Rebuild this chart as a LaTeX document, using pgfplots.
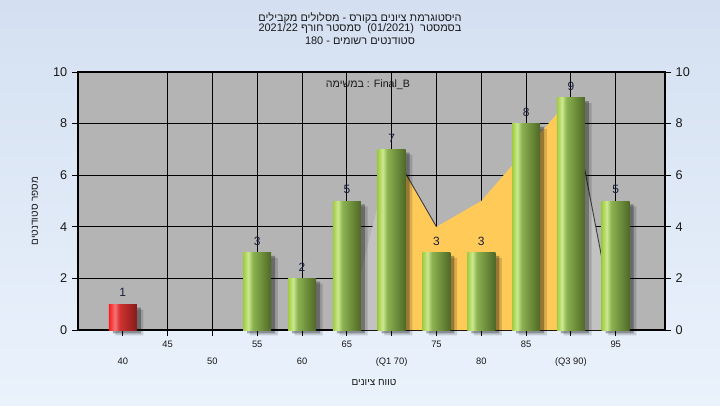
\documentclass[border=0pt]{standalone}
\usepackage{fontspec}
\setmainfont{Liberation Sans}
\newfontfamily\heb[Script=Hebrew]{Liberation Sans}
\usepackage{pgfplots}
\pgfplotsset{compat=1.18}
\TeXXeTstate=1
\newcommand\R[1]{{\heb\beginR #1\endR}}

\definecolor{bgtop}{RGB}{212,224,241}
\definecolor{bgbot}{RGB}{234,242,252}
\definecolor{plotbg}{RGB}{180,180,180}
\definecolor{areaor}{RGB}{255,202,88}
\definecolor{areagr}{RGB}{194,194,194}
\definecolor{gL}{RGB}{160,204,64}
\definecolor{gH}{RGB}{204,232,144}
\definecolor{gM}{RGB}{140,178,80}
\definecolor{gD}{RGB}{78,104,38}
\definecolor{rL}{RGB}{250,28,28}
\definecolor{rH}{RGB}{245,115,115}
\definecolor{rM}{RGB}{210,50,50}
\definecolor{rD}{RGB}{135,28,28}
\definecolor{lbl}{RGB}{25,30,60}
\definecolor{txt}{RGB}{25,25,25}

\pgfdeclarehorizontalshading{greenbar}{100bp}{color(0bp)=(gL); color(25bp)=(gL); color(34bp)=(gH); color(42bp)=(gM); color(75bp)=(gD); color(100bp)=(gD)}
\pgfdeclarehorizontalshading{redbar}{100bp}{color(0bp)=(rL); color(25bp)=(rL); color(36bp)=(rH); color(44bp)=(rM); color(75bp)=(rD); color(100bp)=(rD)}

\pgfplotsset{gbar/.style={ybar, bar width=21pt, bar shift=0pt, draw=none, shading=greenbar}}

\begin{document}
\begin{tikzpicture}
\fill[top color=bgtop, bottom color=bgbot] (0,0) rectangle (540pt,303.75pt);

\begin{axis}[
  at={(58.5pt,56.25pt)}, anchor=south west,
  scale only axis, width=440.25pt, height=193.5pt,
  xmin=-1, xmax=12.1, ymin=0, ymax=10,
  clip=false,
  axis background/.style={fill=plotbg},
  xtick={1,3,5,7,9,11},
  xticklabels={45,55,65,75,85,95},
  extra x ticks={0,2,4,6,8,10},
  extra x tick labels={40,50,60,(Q1 70),80,(Q3 90)},
  extra x tick style={grid=none, xticklabel style={yshift=-12.75pt}},
  xticklabel style={font=\fontsize{7}{8.5}\selectfont, text=txt},
  minor xtick={1,...,11}, xminorgrids,
  ytick={0,2,...,10}, ymajorgrids,
  grid style={black, line width=0.75pt},
  minor grid style={black, line width=0.75pt},
  tick style={black, line width=0.75pt},
  major tick length=4.5pt, minor tick length=0pt,
  tick align=outside,
  xtick pos=bottom, ytick pos=left,
  axis line style={black, line width=0.8pt},
  yticklabel style={font=\fontsize{9.5}{11}\selectfont, text=txt},
  /pgf/number format/assume math mode=true,
]
% distribution area
\addplot[fill=areagr, draw=none] coordinates {(5,0) (6,7)} \closedcycle;
\addplot[fill=areagr, draw=none] coordinates {(10,9) (11,0)} \closedcycle;
\addplot[fill=areaor, draw=none] coordinates {(6,7) (7,4) (8,5) (9,7) (10,9)} \closedcycle;
\addplot[black!75, line width=0.7pt] coordinates {(6,7) (7,4)};
\addplot[black!75, line width=0.7pt] coordinates {(10,9) (11,0)};
% shadows
\addplot[ybar, bar width=21pt, bar shift=5pt, draw=none, fill=black, fill opacity=0.15, yshift=-4pt]
  coordinates {(0,1) (3,3) (4,2) (5,5) (6,7) (7,3) (8,3) (9,8) (10,9) (11,5)};
\addplot[ybar, bar width=21pt, bar shift=3pt, draw=none, fill=black, fill opacity=0.3, yshift=-2.5pt]
  coordinates {(0,1) (3,3) (4,2) (5,5) (6,7) (7,3) (8,3) (9,8) (10,9) (11,5)};
% bars
\addplot[ybar, bar width=21pt, bar shift=0pt, draw=none, shading=redbar] coordinates {(0,1)};
\addplot[gbar] coordinates {(3,3)};
\addplot[gbar] coordinates {(4,2)};
\addplot[gbar] coordinates {(5,5)};
\addplot[gbar] coordinates {(6,7)};
\addplot[gbar] coordinates {(7,3)};
\addplot[gbar] coordinates {(8,3)};
\addplot[gbar] coordinates {(9,8)};
\addplot[gbar] coordinates {(10,9)};
\addplot[gbar] coordinates {(11,5)};
% value labels
\addplot[only marks, mark=none, nodes near coords, point meta=y,
  every node near coord/.append style={font=\fontsize{9}{10}\selectfont, text=lbl, yshift=2pt}]
  coordinates {(0,1) (3,3) (4,2) (5,5) (6,7) (7,3) (8,3) (9,8) (10,9) (11,5)};
\end{axis}

\begin{axis}[
  at={(58.5pt,56.25pt)}, anchor=south west,
  scale only axis, width=440.25pt, height=193.5pt,
  xmin=-1, xmax=12.1, ymin=0, ymax=10,
  axis x line=none, axis y line*=right,
  ytick={0,2,...,10},
  tick style={black, line width=0.75pt},
  major tick length=4.5pt, tick align=outside,
  axis line style={black, line width=0.8pt},
  yticklabel style={font=\fontsize{9.5}{11}\selectfont, text=txt},
  /pgf/number format/assume math mode=true,
]
\end{axis}

\begin{scope}[every node/.style={font=\fontsize{8.2}{9.5}\selectfont, text=txt, inner sep=0pt}]
\node at (270pt,290.5pt) {\hbox{\R{היסטוגרמת ציונים בקורס - מסלולים מקבילים}}};
\node at (270pt,282pt) {\hbox{\heb\beginR בסמסטר\ \ \beginL(01/2021)\endL\ \ סמסטר חורף \beginL2021/22\endL\endR}};
\node at (270pt,273.4pt) {\hbox{\heb\beginR סטודנטים רשומים - \beginL180\endL\endR}};
\end{scope}
\node[font=\fontsize{8}{9}\selectfont, text=txt] at (276pt,240pt) {\R{במשימה} : Final\_B};
\node[font=\fontsize{7.5}{9}\selectfont, text=txt] at (280.5pt,17.25pt) {\R{טווח ציונים}};
\node[font=\fontsize{7.5}{9}\selectfont, text=txt, rotate=90] at (26.25pt,145.5pt) {\R{מספר סטודנטים}};
\end{tikzpicture}
\end{document}
